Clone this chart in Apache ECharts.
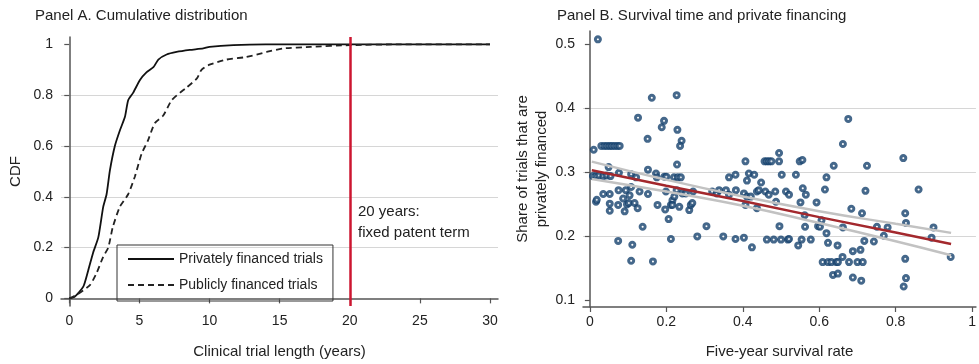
<!DOCTYPE html>
<html>
<head>
<meta charset="utf-8">
<title>Clinical trial length and private financing</title>
<script src="https://cdn.jsdelivr.net/npm/echarts@6/dist/echarts.min.js"></script>
<style>
    html, body { margin: 0; padding: 0; background: #fff; }
    #main { width: 979px; height: 364px; }
</style>
</head>
<body>
<div id="main"></div>
<script>
// Panel A: cumulative distribution of trial length
var privYears = [0, 0.4, 1.0, 1.35, 1.7, 2.07, 2.42, 2.66, 2.9, 3.25, 3.6, 3.97, 4.2, 4.56, 5.04, 5.5, 6.0, 6.35, 6.94, 7.65, 8.6, 9.55, 10, 11.7, 14, 30];
var privCdf = [0, 0.007, 0.046, 0.11, 0.18, 0.24, 0.36, 0.41, 0.505, 0.6, 0.66, 0.715, 0.78, 0.81, 0.86, 0.89, 0.91, 0.94, 0.96, 0.97, 0.978, 0.984, 0.99, 0.997, 1, 1];
var pubYears = [0, 0.5, 1.47, 1.95, 2.42, 2.78, 3.1, 3.6, 4.2, 4.68, 5.16, 5.6, 6.1, 6.7, 7.3, 7.9, 8.37, 9.1, 9.43, 10, 11.2, 12.6, 14.07, 15.25, 17.2, 20, 23.6, 30];
var pubCdf = [0, 0.013, 0.052, 0.1, 0.164, 0.2, 0.28, 0.36, 0.41, 0.48, 0.57, 0.62, 0.69, 0.72, 0.78, 0.81, 0.83, 0.866, 0.9, 0.92, 0.94, 0.95, 0.97, 0.984, 0.99, 0.997, 1, 1];
var patentTerm = 20;
var lenTicks = [0, 5, 10, 15, 20, 25, 30];
var cdfTicks = [0, 0.2, 0.4, 0.6, 0.8, 1];

// Panel B: survival rate vs share privately financed
var survRate = [
    0.021, 0.162, 0.227, 0.126, 0.194, 0.188, 0.229, 0.151, 0.240, 0.236, 0.010,
    0.030, 0.038, 0.045, 0.052, 0.058, 0.065, 0.072, 0.078,
    0.228, 0.049, 0.152,
    0.407, 0.457, 0.463, 0.469, 0.475, 0.495, 0.495, 0.549, 0.556,
    0.638, 0.662, 0.676, 0.820, 0.725,
    0.416, 0.430, 0.502, 0.539, 0.619,
    0.076, 0.173, 0.108, 0.121, 0.175,
    0.008, 0.016, 0.024, 0.035, 0.044, 0.054,
    0.195, 0.200, 0.220, 0.230, 0.238,
    0.364, 0.381, 0.411, 0.448,
    0.016, 0.018, 0.035, 0.052, 0.052, 0.052,
    0.075, 0.074, 0.087, 0.091, 0.097, 0.102,
    0.094, 0.108, 0.104, 0.117, 0.125, 0.130,
    0.138, 0.152, 0.177, 0.197, 0.206, 0.212,
    0.199, 0.216, 0.221, 0.227, 0.212, 0.216,
    0.234, 0.242, 0.251, 0.260, 0.264, 0.268, 0.270,
    0.074, 0.111, 0.108, 0.165,
    0.281, 0.305, 0.349, 0.381, 0.403, 0.424,
    0.320, 0.332, 0.338, 0.356, 0.364, 0.382,
    0.403, 0.411, 0.407, 0.421, 0.437, 0.437,
    0.442, 0.459, 0.468, 0.485, 0.513, 0.521,
    0.557, 0.565, 0.615, 0.721, 0.860,
    0.487, 0.551, 0.593, 0.562, 0.496, 0.563,
    0.606, 0.597, 0.602, 0.619, 0.684, 0.712,
    0.662, 0.751, 0.779, 0.825, 0.827, 0.899, 0.894, 0.944,
    0.463, 0.481, 0.500, 0.518, 0.521, 0.545, 0.554, 0.578,
    0.623, 0.648, 0.718, 0.743, 0.769,
    0.688, 0.708, 0.661,
    0.609, 0.623, 0.632, 0.645, 0.649, 0.678, 0.700, 0.714,
    0.636, 0.649, 0.688, 0.710,
    0.825, 0.827, 0.821
];
var privShare = [
    0.507, 0.416, 0.420, 0.385, 0.380, 0.370, 0.366, 0.352, 0.349, 0.341, 0.335,
    0.341, 0.341, 0.341, 0.341, 0.341, 0.341, 0.341, 0.341,
    0.312, 0.308, 0.304,
    0.317, 0.317, 0.317, 0.317, 0.317, 0.330, 0.317, 0.317, 0.319,
    0.310, 0.344, 0.383, 0.322, 0.310,
    0.298, 0.296, 0.296, 0.296, 0.292,
    0.299, 0.298, 0.297, 0.292, 0.292,
    0.294, 0.294, 0.295, 0.294, 0.295, 0.294,
    0.293, 0.293, 0.292, 0.292, 0.292,
    0.292, 0.296, 0.287, 0.284,
    0.254, 0.257, 0.266, 0.266, 0.251, 0.240,
    0.272, 0.249, 0.259, 0.239, 0.250, 0.252,
    0.272, 0.277, 0.264, 0.252, 0.244, 0.270,
    0.215, 0.266, 0.249, 0.242, 0.227, 0.196,
    0.270, 0.256, 0.262, 0.272, 0.249, 0.249,
    0.246, 0.267, 0.267, 0.241, 0.249, 0.252, 0.270,
    0.193, 0.187, 0.162, 0.161,
    0.200, 0.216, 0.200, 0.196, 0.198, 0.183,
    0.270, 0.267, 0.272, 0.272, 0.265, 0.272,
    0.267, 0.262, 0.249, 0.262, 0.270, 0.244,
    0.272, 0.270, 0.265, 0.270, 0.270, 0.265,
    0.275, 0.265, 0.273, 0.271, 0.273,
    0.254, 0.253, 0.253, 0.233, 0.216, 0.215,
    0.225, 0.216, 0.215, 0.205, 0.243, 0.236,
    0.214, 0.215, 0.214, 0.236, 0.221, 0.214, 0.198, 0.168,
    0.195, 0.195, 0.195, 0.195, 0.196, 0.186, 0.195, 0.195,
    0.190, 0.186, 0.193, 0.192, 0.201,
    0.177, 0.179, 0.168,
    0.160, 0.160, 0.160, 0.160, 0.160, 0.160, 0.160, 0.160,
    0.140, 0.142, 0.136, 0.131,
    0.165, 0.135, 0.122
];
// fitted line and confidence band
var fitX = [0.005, 0.2, 0.4, 0.6, 0.8, 0.945];
var fitY = [0.303, 0.279, 0.255, 0.230, 0.206, 0.188];
var fitHi = [0.3165, 0.2882, 0.2622, 0.2392, 0.2196, 0.2055];
var fitLo = [0.2895, 0.2698, 0.2478, 0.2208, 0.1924, 0.1705];
var survTicks = [0, 0.2, 0.4, 0.6, 0.8, 1];
var shareTicks = [0.1, 0.2, 0.3, 0.4, 0.5];

function zip(xs, ys) {
    return xs.map(function (x, i) { return [x, ys[i]]; });
}

var font = 'Liberation Sans, Arial, sans-serif';
var ink = '#222';
var axisCol = '#555';

function axis(grid, min, max, ticks, opts) {
    var a = {
        type: 'value',
        gridIndex: grid,
        min: min,
        max: max,
        axisLine: { show: true, lineStyle: { color: axisCol, width: 1.5 } },
        axisTick: { show: true, length: 5, customValues: ticks, lineStyle: { color: axisCol, width: 1.2 } },
        axisLabel: { customValues: ticks, color: ink, fontSize: 14, fontFamily: font, margin: 8,
            formatter: function (v) { return String(v); } },
        splitLine: { show: false },
        nameLocation: 'middle',
        nameTextStyle: { color: ink, fontSize: 15, fontFamily: font }
    };
    for (var k in opts) a[k] = opts[k];
    return a;
}

var gridLine = { show: true, showMinLine: false, showMaxLine: false, lineStyle: { color: '#d6d6d6', width: 1 } };

var chart = echarts.init(document.getElementById('main'));
chart.setOption({
    animation: false,
    textStyle: { fontFamily: font },
    title: [
        { text: 'Panel A. Cumulative distribution', left: 35, top: 8, padding: 0,
          textStyle: { fontSize: 15, fontWeight: 'normal', color: ink, fontFamily: font } },
        { text: 'Panel B. Survival time and private financing', left: 557, top: 8, padding: 0,
          textStyle: { fontSize: 15, fontWeight: 'normal', color: ink, fontFamily: font } }
    ],
    grid: [
        { left: 61, top: 37, width: 437, height: 269 },
        { left: 583, top: 31, width: 396, height: 276 }
    ],
    xAxis: [
        axis(0, -0.59, 30.57, lenTicks, { name: 'Clinical trial length (years)', nameGap: 38, splitNumber: 6 }),
        axis(1, -0.018, 1.01, survTicks, { name: 'Five-year survival rate', nameGap: 37, splitNumber: 5 })
    ],
    yAxis: [
        axis(0, -0.03, 1.029, cdfTicks, { name: 'CDF', nameGap: 38, splitNumber: 5, splitLine: gridLine }),
        axis(1, 0.09, 0.52, shareTicks, { name: 'Share of trials that are\nprivately financed', nameGap: 26,
            splitNumber: 4, splitLine: gridLine, nameTextStyle: { color: ink, fontSize: 15, fontFamily: font, lineHeight: 19 } })
    ],
    legend: {
        orient: 'vertical',
        left: 117, top: 245,
        data: ['Privately financed trials', 'Publicly financed trials'],
        itemStyle: { color: 'rgba(0,0,0,0)', borderWidth: 0, opacity: 0 },
        borderColor: '#333', borderWidth: 1,
        padding: [7, 10, 9, 10],
        itemWidth: 46, itemHeight: 14, itemGap: 12,
        textStyle: { color: ink, fontSize: 14, fontFamily: font }
    },
    graphic: [
        { type: 'text', left: 358, top: 201,
          style: { text: '20 years:\nfixed patent term', fontSize: 15, lineHeight: 21, fill: ink, fontFamily: font } }
    ],
    series: [
        {
            name: 'Privately financed trials', type: 'line', xAxisIndex: 0, yAxisIndex: 0,
            data: zip(privYears, privCdf), symbol: 'none', smooth: 0.2,
            lineStyle: { color: '#111', width: 1.8 }, itemStyle: { color: '#111' }, z: 3,
            markLine: {
                silent: true, symbol: 'none', label: { show: false },
                lineStyle: { color: '#cc1630', width: 2.5, type: 'solid' },
                data: [{ xAxis: patentTerm }]
            }
        },
        {
            name: 'Publicly financed trials', type: 'line', xAxisIndex: 0, yAxisIndex: 0,
            data: zip(pubYears, pubCdf), symbol: 'none', smooth: 0.2,
            lineStyle: { color: '#222', width: 1.8, type: [6, 4] }, itemStyle: { color: '#222' }, z: 3
        },
        {
            type: 'scatter', xAxisIndex: 1, yAxisIndex: 1, clip: false,
            data: zip(survRate, privShare), symbol: 'circle', symbolSize: 5,
            itemStyle: { color: '#fff', borderColor: '#17426e', borderWidth: 3 }, z: 2
        },
        {
            type: 'line', xAxisIndex: 1, yAxisIndex: 1, data: zip(fitX, fitHi), symbol: 'none', smooth: true,
            lineStyle: { color: '#c2c2c2', width: 2.5 }, z: 3
        },
        {
            type: 'line', xAxisIndex: 1, yAxisIndex: 1, data: zip(fitX, fitLo), symbol: 'none', smooth: true,
            lineStyle: { color: '#c2c2c2', width: 2.5 }, z: 3
        },
        {
            type: 'line', xAxisIndex: 1, yAxisIndex: 1, data: zip(fitX, fitY), symbol: 'none',
            lineStyle: { color: '#a3282d', width: 2.5 }, z: 4
        }
    ]
});
</script>
</body>
</html>
